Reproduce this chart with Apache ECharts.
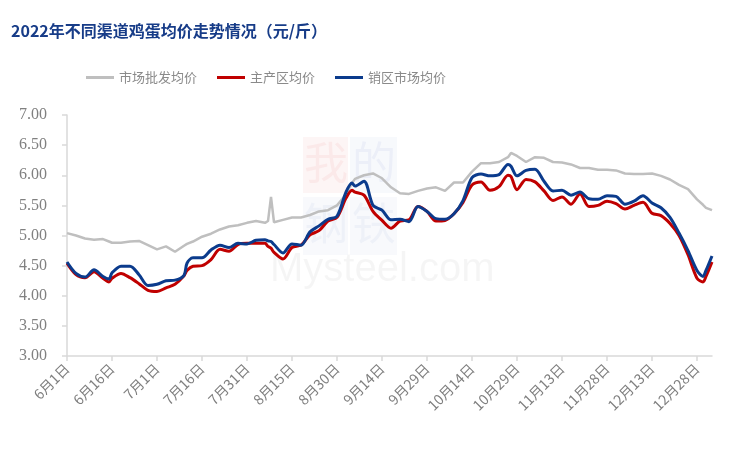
<!DOCTYPE html>
<html><head><meta charset="utf-8">
<script src="https://cdn.jsdelivr.net/npm/echarts@6/dist/echarts.min.js"></script>
<style>html,body{margin:0;padding:0;background:#fff}#c{width:750px;height:450px}</style>
</head><body><div id="c"></div>
<script>
// day offsets from 2022-06-01
var days = [0,3,6,9,12,14,15,18,21,24,27,30,33,36,39,40,42,45,48,51,54,57,60,63,66,67,68,69,72,75,78,81,84,87,90,93,95,96,99,102,105,108,111,114,117,120,123,126,129,132,135,138,141,144,147,148,150,153,156,159,162,165,168,171,174,177,180,183,186,189,192,195,198,201,204,207,210,212,213,215];
var wholesale = [5.04,5.00,4.95,4.93,4.94,4.90,4.88,4.88,4.90,4.91,4.84,4.77,4.82,4.73,4.83,4.86,4.90,4.98,5.03,5.10,5.15,5.17,5.21,5.24,5.21,5.24,5.64,5.22,5.26,5.30,5.30,5.34,5.40,5.42,5.50,5.68,5.87,5.94,6.00,6.03,5.95,5.80,5.70,5.69,5.74,5.78,5.80,5.74,5.88,5.88,6.06,6.20,6.20,6.22,6.30,6.37,6.32,6.22,6.30,6.29,6.22,6.21,6.18,6.12,6.12,6.09,6.09,6.08,6.03,6.02,6.02,6.03,5.99,5.93,5.84,5.77,5.60,5.51,5.46,5.42];
var producing = [4.54,4.35,4.30,4.40,4.29,4.23,4.29,4.37,4.30,4.20,4.09,4.07,4.13,4.19,4.33,4.42,4.49,4.50,4.60,4.77,4.74,4.85,4.87,4.87,4.87,4.82,4.79,4.72,4.61,4.80,4.84,5.01,5.08,5.24,5.30,5.62,5.75,5.72,5.67,5.40,5.25,5.12,5.24,5.26,5.48,5.40,5.24,5.25,5.36,5.55,5.84,5.89,5.75,5.81,6.00,5.98,5.76,5.93,5.89,5.74,5.58,5.64,5.52,5.69,5.48,5.50,5.57,5.53,5.44,5.50,5.55,5.37,5.33,5.20,5.00,4.68,4.29,4.23,4.32,4.56];
var sales = [4.56,4.37,4.31,4.43,4.32,4.28,4.38,4.49,4.49,4.35,4.17,4.19,4.25,4.26,4.34,4.54,4.63,4.63,4.76,4.84,4.80,4.87,4.86,4.92,4.93,4.91,4.90,4.85,4.71,4.86,4.84,5.06,5.16,5.27,5.32,5.72,5.87,5.82,5.90,5.50,5.42,5.26,5.27,5.23,5.48,5.40,5.28,5.27,5.36,5.58,5.96,6.02,5.99,6.01,6.18,6.15,5.99,6.08,6.10,5.90,5.74,5.75,5.67,5.72,5.61,5.60,5.66,5.65,5.52,5.57,5.66,5.54,5.46,5.30,5.04,4.75,4.42,4.32,4.42,4.66];
var tickDays = [0,15,30,45,60,75,90,105,120,135,150,165,180,195,210];
var tickLabels = ['6月1日','6月16日','7月1日','7月16日','7月31日','8月15日','8月30日','9月14日','9月29日','10月14日','10月29日','11月13日','11月28日','12月13日','12月28日'];
var seriesNames = ['市场批发均价','主产区均价','销区市场均价'];
var title = '2022年不同渠道鸡蛋均价走势情况（元/斤）';

function pairs(v){ return days.map(function(d,i){ return [d, v[i]]; }); }

var chart = echarts.init(document.getElementById('c'), null, {renderer:'canvas'});
chart.setOption({
  backgroundColor:'#fff',
  animation:false,
  title:{text:title,left:6,top:18,textStyle:{fontFamily:'Noto Sans CJK SC',fontSize:16,fontWeight:'bold',color:'#173c88'}},
  legend:{left:81,top:66,icon:'rect',itemWidth:28,itemHeight:3,itemGap:20,
    textStyle:{fontFamily:'Noto Sans CJK SC',fontSize:13,color:'#8a8a8a'},
    data:seriesNames},
  grid:{left:67,right:38,top:115,bottom:94,containLabel:false},
  graphic:[
    {type:'rect',shape:{x:303,y:137,width:45,height:56},style:{fill:'rgba(220,60,60,0.05)'},z:-1,silent:true},
    {type:'rect',shape:{x:350,y:137,width:47,height:56},style:{fill:'rgba(60,90,180,0.04)'},z:-1,silent:true},
    {type:'rect',shape:{x:303,y:197,width:45,height:58},style:{fill:'rgba(60,90,180,0.035)'},z:-1,silent:true},
    {type:'rect',shape:{x:350,y:197,width:47,height:58},style:{fill:'rgba(60,90,180,0.035)'},z:-1,silent:true},
    {type:'text',left:304,top:140,style:{text:'我',font:'44px "Noto Sans CJK SC"',fill:'rgba(220,80,80,0.07)'},z:-1,silent:true},
    {type:'text',left:352,top:140,style:{text:'的',font:'44px "Noto Sans CJK SC"',fill:'rgba(60,90,180,0.06)'},z:-1,silent:true},
    {type:'text',left:304,top:201,style:{text:'钢',font:'44px "Noto Sans CJK SC"',fill:'rgba(60,90,180,0.05)'},z:-1,silent:true},
    {type:'text',left:352,top:201,style:{text:'铁',font:'44px "Noto Sans CJK SC"',fill:'rgba(60,90,180,0.05)'},z:-1,silent:true},
    {type:'text',left:270,top:250,style:{text:'Mysteel.com',font:'40px "Liberation Sans"',fill:'rgba(0,0,0,0.04)'},z:-1,silent:true}
  ],
  xAxis:{type:'value',min:0,max:215,
    axisLine:{show:true,lineStyle:{color:'#d9d9d9',width:1.5}},
    axisTick:{show:true,length:5,customValues:tickDays,lineStyle:{color:'#d9d9d9',width:1.5}},
    axisLabel:{customValues:tickDays,rotate:45,margin:10,fontFamily:'Noto Sans CJK SC',fontSize:14,color:'#7f7f7f',
      formatter:function(v){ var i=tickDays.indexOf(Math.round(v)); return i>=0?tickLabels[i]:''; }},
    splitLine:{show:false}},
  yAxis:{type:'value',min:3,max:7,interval:0.5,
    axisLine:{show:true,lineStyle:{color:'#d9d9d9',width:1.5}},
    axisTick:{show:true,length:5,lineStyle:{color:'#d9d9d9',width:1.5}},
    axisLabel:{margin:20,fontFamily:'Liberation Serif',fontSize:16,color:'#808080',formatter:function(v){return v.toFixed(2);}},
    splitLine:{show:false}},
  series:[
    {name:seriesNames[0],type:'line',data:pairs(wholesale),symbol:'none',smooth:false,lineStyle:{color:'#bfbfbf',width:2.5},itemStyle:{color:'#bfbfbf'},z:2},
    {name:seriesNames[1],type:'line',data:pairs(producing),symbol:'none',smooth:0.3,lineStyle:{color:'#c00000',width:3},itemStyle:{color:'#c00000'},z:3},
    {name:seriesNames[2],type:'line',data:pairs(sales),symbol:'none',smooth:0.3,lineStyle:{color:'#0b3b8c',width:3},itemStyle:{color:'#0b3b8c'},z:4}
  ]
});
</script></body></html>
